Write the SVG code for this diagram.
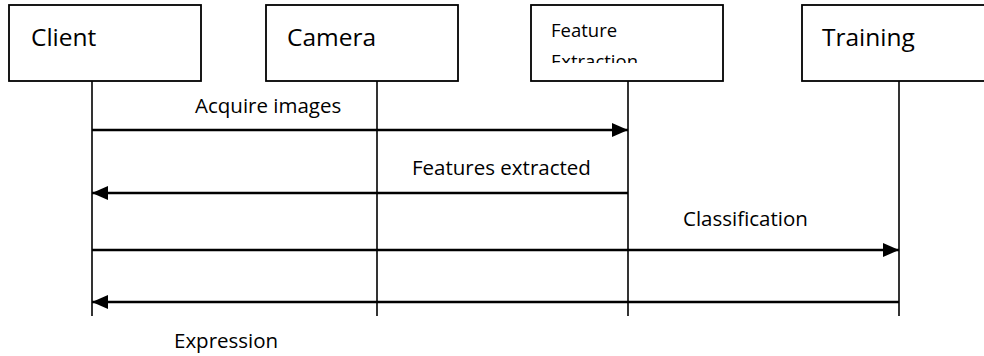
<svg xmlns="http://www.w3.org/2000/svg" width="984" height="356" viewBox="0 0 984 356">
<style>
.box{fill:#fff;stroke:#000;stroke-width:1.8}
.life{stroke:#000;stroke-width:1.6;fill:none}
.msg{stroke:#000;stroke-width:2.5;fill:none}
.t{font-family:"Open Sans","Liberation Sans",sans-serif;fill:#000}
.big{font-size:24.5px}
.lbl{font-size:20.5px}
.sm{font-size:18.5px}
</style>
<defs>
<marker id="ah" viewBox="0 0 16 14" refX="16" refY="7" markerWidth="16" markerHeight="14" orient="auto-start-reverse" markerUnits="userSpaceOnUse">
<path d="M0,0 L16,7 L0,14 Z" fill="#000"/>
</marker>
<clipPath id="fclip"><rect x="531" y="5" width="192" height="58"/></clipPath>
</defs>
<g id="lifelines">
<line class="life" x1="92" y1="81" x2="92" y2="316"/>
<line class="life" x1="377" y1="81" x2="377" y2="316"/>
<line class="life" x1="628" y1="81" x2="628" y2="316"/>
<line class="life" x1="899" y1="81" x2="899" y2="316"/>
</g>
<g id="client"><rect class="box" x="9" y="5" width="192" height="76"/><text class="t big" x="31" y="46">Client</text></g>
<g id="camera"><rect class="box" x="266" y="5" width="192" height="76"/><text class="t big" x="287" y="46">Camera</text></g>
<g id="feature"><rect class="box" x="531" y="5" width="192" height="76"/><g clip-path="url(#fclip)"><text class="t sm" x="551" y="37">Feature</text><text class="t sm" x="551" y="68">Extraction</text></g></g>
<g id="training"><rect class="box" x="802" y="5" width="200" height="76"/><text class="t big" x="822" y="46">Training</text></g>
<g id="connectors">
<line class="msg" x1="92" y1="130" x2="628" y2="130" marker-end="url(#ah)"/>
<line class="msg" x1="628" y1="193" x2="92" y2="193" marker-end="url(#ah)"/>
<line class="msg" x1="92" y1="250" x2="899" y2="250" marker-end="url(#ah)"/>
<line class="msg" x1="899" y1="302" x2="92" y2="302" marker-end="url(#ah)"/>
</g>
<g id="labels">
<text class="t lbl" x="195" y="113">Acquire images</text>
<text class="t lbl" x="412" y="175">Features extracted</text>
<text class="t lbl" x="683" y="226">Classification</text>
<text class="t lbl" x="174" y="348">Expression</text>
</g>
</svg>
